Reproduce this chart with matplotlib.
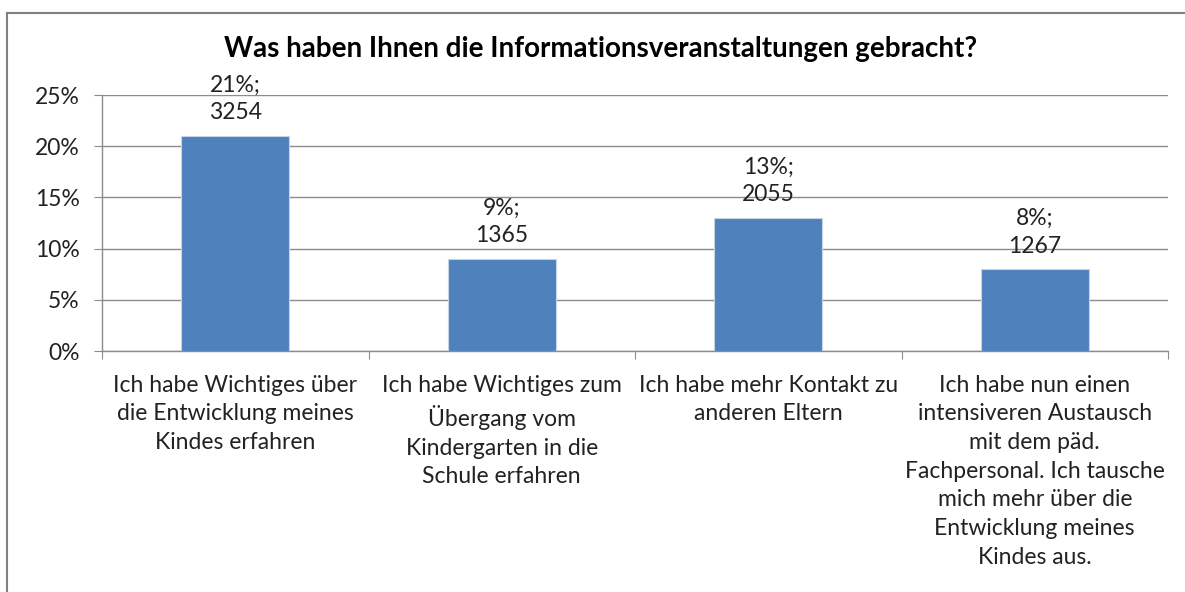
import matplotlib
matplotlib.use("Agg")
import matplotlib.pyplot as plt
from matplotlib.ticker import FixedLocator, PercentFormatter
from matplotlib.lines import Line2D

title = "Was haben Ihnen die Informationsveranstaltungen gebracht?"
categories = [
    "Ich habe Wichtiges über\ndie Entwicklung meines\nKindes erfahren",
    "Ich habe Wichtiges zum\nÜbergang vom\nKindergarten in die\nSchule erfahren",
    "Ich habe mehr Kontakt zu\nanderen Eltern",
    "Ich habe nun einen\nintensiveren Austausch\nmit dem päd.\nFachpersonal. Ich tausche\nmich mehr über die\nEntwicklung meines\nKindes aus.",
]
percents = [21, 9, 13, 8]
counts = [3254, 1365, 2055, 1267]
yticks = [0, 5, 10, 15, 20, 25]

plt.rcParams['font.family'] = ['Lato', 'DejaVu Sans']
text_color = "#222222"
grid_color = "#8c8c8c"

fig = plt.figure(figsize=(11.85, 5.92), dpi=100)
ax = fig.add_axes([102/1185, 1-351/592, (1168-102)/1185, (351-95)/592])

x = list(range(len(categories)))
ax.bar(x, percents, width=0.405, color="#4F81BD", edgecolor="#c6d4e8", linewidth=0.8, zorder=3)

ax.set_xlim(-0.5, len(categories) - 0.5)
ax.set_ylim(0, 25)
ax.yaxis.set_major_locator(FixedLocator(yticks))
ax.yaxis.set_major_formatter(PercentFormatter(decimals=0))
ax.grid(axis='y', color=grid_color, linewidth=1.0, zorder=0)

ax.xaxis.set_major_locator(FixedLocator([i - 0.5 for i in range(len(categories) + 1)]))
ax.xaxis.set_major_formatter(plt.NullFormatter())
ax.xaxis.set_minor_locator(FixedLocator(x))
ax.set_xticklabels(categories, minor=True)
ax.tick_params(axis='x', which='major', length=6, color=grid_color, direction='out')
ax.tick_params(axis='x', which='minor', length=0, pad=17, labelsize=16.5, labelcolor=text_color)
ax.tick_params(axis='y', length=6, color=grid_color, direction='out', labelsize=16.5,
               labelcolor=text_color, pad=10)
for lbl in ax.get_xticklabels(minor=True):
    lbl.set_horizontalalignment('center')
    lbl.set_multialignment('center')
    lbl.set_linespacing(1.45)

for s in ['top', 'right']:
    ax.spines[s].set_visible(False)
for s in ['left', 'bottom']:
    ax.spines[s].set_color(grid_color)
    ax.spines[s].set_linewidth(1.0)

for xi, p, c in zip(x, percents, counts):
    ax.annotate(f"{p}%;\n{c}", xy=(xi, p), xytext=(0, 9), textcoords='offset points',
                ha='center', va='bottom', fontsize=16.5, color=text_color, linespacing=1.38)

fig.text(601/1185, 1-49/592, title, ha='center', va='center', fontsize=20,
         fontweight='bold', color='#000000')

# outer chart border
fig.add_artist(Line2D([7/1185, 7/1185], [0, 1-13/592], transform=fig.transFigure,
                      color="#808080", linewidth=1.5))
fig.add_artist(Line2D([7/1185, 1], [1-13/592, 1-13/592], transform=fig.transFigure,
                      color="#808080", linewidth=1.5))

fig.savefig("out.png", dpi=100)
